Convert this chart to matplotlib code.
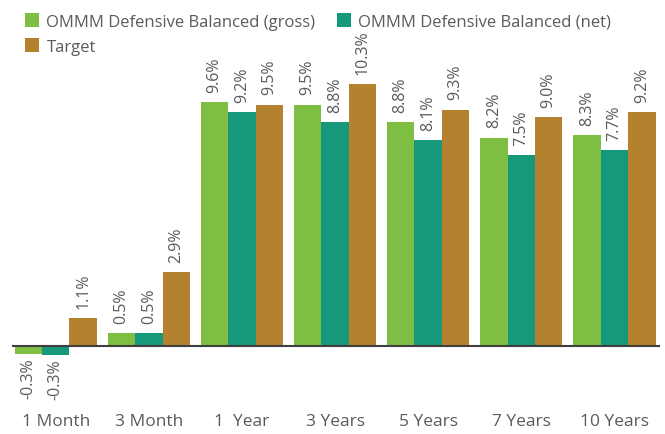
import matplotlib
matplotlib.use("Agg")
import matplotlib.pyplot as plt
import numpy as np

categories = ["1 Month", "3 Month", "1  Year", "3 Years", "5 Years", "7 Years", "10 Years"]
gross = [-0.30, 0.5, 9.6, 9.5, 8.8, 8.2, 8.3]
net = [-0.34, 0.5, 9.2, 8.8, 8.1, 7.5, 7.7]
target = [1.1, 2.9, 9.5, 10.3, 9.3, 9.0, 9.2]
series_names = ["OMMM Defensive Balanced (gross)", "OMMM Defensive Balanced (net)", "Target"]
colors = ["#7dbe43", "#16987a", "#b4822e"]

plt.rcParams['font.family'] = ['Open Sans', 'DejaVu Sans']
txt_color = "#5a5a5a"

fig = plt.figure(figsize=(6.65, 4.35), dpi=100)
ax = fig.add_axes([12/665, 35/435, 648/665, 340/435])

x = np.arange(len(categories))
w = 0.295
handles = []
for i, (vals, name, c) in enumerate(zip([gross, net, target], series_names, colors)):
    pos = x + (i - 1) * w
    b = ax.bar(pos, vals, width=w, color=c, label=name, zorder=2)
    handles.append(b)
    for p, v in zip(pos, vals):
        lab = f"{v:.1f}%"
        if v >= 0:
            ax.annotate(lab, (p, v), xytext=(0, 7.5), textcoords="offset points",
                        rotation=90, ha="center", va="bottom", fontsize=11.5, color=txt_color)
        else:
            ax.annotate(lab, (p, v), xytext=(0, -2.5), textcoords="offset points",
                        rotation=90, ha="center", va="top", fontsize=11.5, color=txt_color)

ax.axhline(0, color="#3f3f3f", lw=1.5, zorder=3)
ax.set_xlim(-0.47, 6.49)
ax.set_ylim(-2.09, 11.30)
ax.set_xticks(x)
ax.set_xticklabels(categories, fontsize=12.5, color=txt_color)
ax.tick_params(axis="x", length=0, pad=10)
ax.set_yticks([])
for s in ax.spines.values():
    s.set_visible(False)

fig.legend([handles[0], handles[2], handles[1]],
           [series_names[0], series_names[2], series_names[1]],
           ncol=2, loc="upper left", bbox_to_anchor=(0.028, 0.982), frameon=False,
           fontsize=12, labelcolor=txt_color, handlelength=0.85, handleheight=0.85,
           handletextpad=0.42, columnspacing=1.27, labelspacing=0.5, borderaxespad=0.0)

fig.savefig("out.png", dpi=100)
